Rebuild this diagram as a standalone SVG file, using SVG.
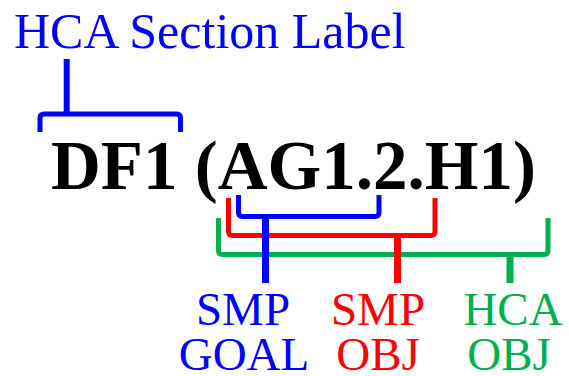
<svg xmlns="http://www.w3.org/2000/svg" width="569" height="376" viewBox="0 0 569 376">
<style>
.lbl{font-family:"Liberation Serif","Times New Roman",serif;}
.br{fill:none;stroke-width:5;stroke-linejoin:round;}
.stem{stroke-width:7;}
.b{stroke:#0000FF;}
.r{stroke:#FF0000;}
.g{stroke:#00B050;}
</style>
<rect width="569" height="376" fill="#FFFFFF"/>
<g id="section-label">
<text class="lbl" x="14" y="48" font-size="50" fill="#0000FF">HCA Section Label</text>
</g>
<g id="code">
<text class="lbl" x="51" y="189" font-size="69" font-weight="bold" fill="#000000">DF1 (AG1.2.H1)</text>
</g>
<g id="connectors">
<path class="br b" d="M40,132 V118 Q40,114 44,114 H176.5 Q180.5,114 180.5,118 V132"/>
<line class="b" x1="66.7" y1="59" x2="66.7" y2="114" stroke-width="6"/>
<path class="br g" d="M218.5,218 V250.5 Q218.5,254.5 222.5,254.5 H544 Q548,254.5 548,250.5 V218"/>
<line class="g stem" x1="510" y1="254.5" x2="510" y2="283"/>
<path class="br r" d="M228.5,198 V231.5 Q228.5,235.5 232.5,235.5 H431 Q435,235.5 435,231.5 V198"/>
<line class="r stem" x1="397.5" y1="235.5" x2="397.5" y2="283"/>
<path class="br b" d="M238.5,195 V212.5 Q238.5,216.5 242.5,216.5 H375 Q379,216.5 379,212.5 V195"/>
<line class="b stem" x1="265.5" y1="216.5" x2="265.5" y2="283"/>
</g>
<g id="smp-goal">
<text class="lbl" x="243" y="325" font-size="47" text-anchor="middle" fill="#0000FF">SMP</text>
<text class="lbl" x="244" y="370" font-size="47" text-anchor="middle" fill="#0000FF">GOAL</text>
</g>
<g id="smp-obj">
<text class="lbl" x="378" y="325" font-size="47" text-anchor="middle" fill="#FF0000">SMP</text>
<text class="lbl" x="378" y="370" font-size="47" text-anchor="middle" fill="#FF0000">OBJ</text>
</g>
<g id="hca-obj">
<text class="lbl" x="513" y="325" font-size="47" text-anchor="middle" fill="#00B050">HCA</text>
<text class="lbl" x="509" y="370" font-size="47" text-anchor="middle" fill="#00B050">OBJ</text>
</g>
</svg>
